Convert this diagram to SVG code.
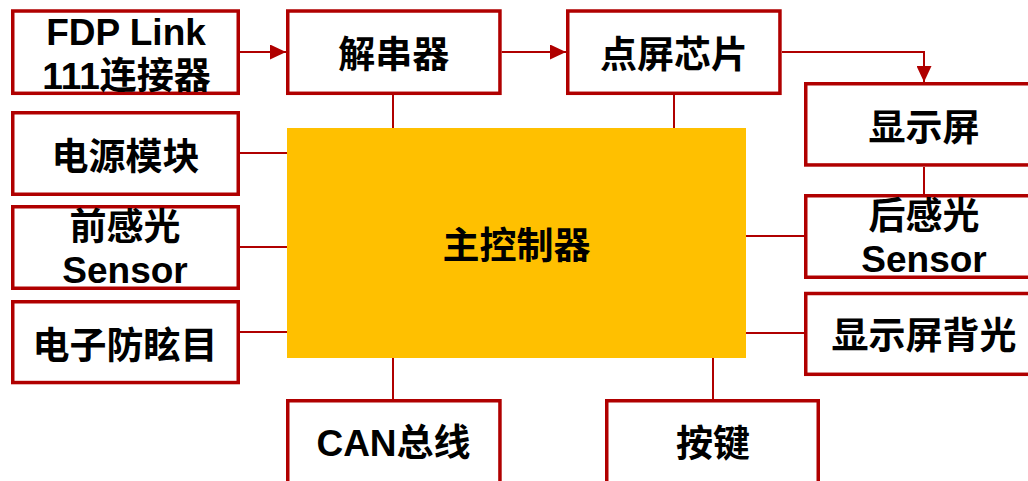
<svg xmlns="http://www.w3.org/2000/svg" width="1028" height="481" viewBox="0 0 1028 481">
<style>
.box{fill:#fff;stroke:#B00000;stroke-width:3.5}
.ln{fill:none;stroke:#B00000;stroke-width:2}
.t{font-family:"Liberation Sans","Noto Sans CJK SC",sans-serif;font-weight:bold;font-size:37px;fill:#000;text-anchor:middle}
</style>
<defs>
<marker id="ah" markerUnits="userSpaceOnUse" markerWidth="16" markerHeight="15" refX="16" refY="7.5" orient="auto">
<path d="M0,0 L16,7.5 L0,15 z" fill="#B00000"/>
</marker>
</defs>
<rect width="1028" height="481" fill="#fff"/>
<g id="connectors">
<line class="ln" x1="240" y1="52" x2="286" y2="52" marker-end="url(#ah)"/>
<line class="ln" x1="501.7" y1="52" x2="566" y2="52" marker-end="url(#ah)"/>
<polyline class="ln" points="782,52 924,52 924,82" marker-end="url(#ah)"/>
<line class="ln" x1="393" y1="95" x2="393" y2="128"/>
<line class="ln" x1="674" y1="95" x2="674" y2="128"/>
<line class="ln" x1="240" y1="153" x2="287" y2="153"/>
<line class="ln" x1="240" y1="247" x2="287" y2="247"/>
<line class="ln" x1="240" y1="332" x2="287" y2="332"/>
<line class="ln" x1="393" y1="358" x2="393" y2="399"/>
<line class="ln" x1="713" y1="358" x2="713" y2="399"/>
<line class="ln" x1="746" y1="236" x2="804" y2="236"/>
<line class="ln" x1="746" y1="333" x2="804" y2="333"/>
<line class="ln" x1="924" y1="167" x2="924" y2="194"/>
</g>
<g id="main">
<rect x="287" y="128" width="459" height="230" fill="#FFC000"/>
<text class="t" x="516.5" y="258.5">主控制器</text>
</g>
<g id="fdp">
<rect class="box" x="12.75" y="11" width="225.5" height="82.3"/>
<text class="t" x="126" y="45">FDP Link</text>
<text class="t" x="126.5" y="89">111连接器</text>
</g>
<g id="deser">
<rect class="box" x="287.75" y="11" width="212.2" height="82.3"/>
<text class="t" x="393.7" y="67.5">解串器</text>
</g>
<g id="chip">
<rect class="box" x="567.75" y="11" width="212.2" height="82.3"/>
<text class="t" x="674" y="68">点屏芯片</text>
</g>
<g id="display">
<rect class="box" x="805.75" y="83.75" width="240" height="81.2"/>
<text class="t" x="924" y="141">显示屏</text>
</g>
<g id="power">
<rect class="box" x="12.75" y="112.75" width="225.5" height="81.5"/>
<text class="t" x="125.5" y="170">电源模块</text>
</g>
<g id="front">
<rect class="box" x="12.75" y="206.75" width="225.5" height="81.5"/>
<text class="t" x="125" y="240">前感光</text>
<text class="t" x="125" y="283.3">Sensor</text>
</g>
<g id="antiglare">
<rect class="box" x="12.75" y="301.75" width="225.5" height="80.8"/>
<text class="t" x="125" y="358.5">电子防眩目</text>
</g>
<g id="can">
<rect class="box" x="287.75" y="400.75" width="212.2" height="100"/>
<text class="t" x="393.5" y="456">CAN总线</text>
</g>
<g id="keys">
<rect class="box" x="606.75" y="400.75" width="211.5" height="100"/>
<text class="t" x="713" y="457">按键</text>
</g>
<g id="rear">
<rect class="box" x="805.75" y="195.75" width="240" height="81.5"/>
<text class="t" x="924" y="228.5">后感光</text>
<text class="t" x="924" y="271.7">Sensor</text>
</g>
<g id="backlight">
<rect class="box" x="805.75" y="293.5" width="240" height="80.8"/>
<text class="t" x="924" y="349">显示屏背光</text>
</g>
</svg>
